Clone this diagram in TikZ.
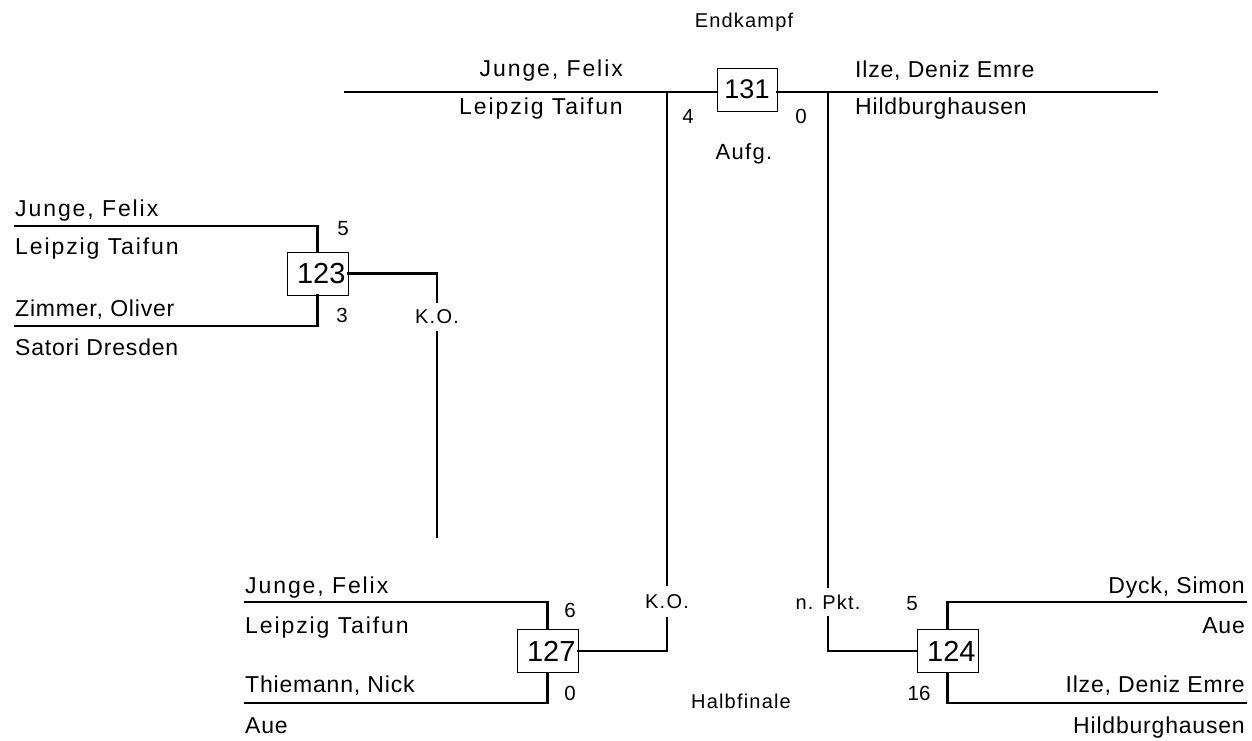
\documentclass[tikz,border=0pt]{standalone}
\usepackage{fontspec}
\setmainfont{Liberation Sans}
\newfontfamily\namefont{Liberation Sans}[LetterSpace=3.5]
\newfontfamily\widefont{Liberation Sans}[LetterSpace=8.3]
\newfontfamily\lblfont{Liberation Sans}[LetterSpace=6]
\tikzset{
  pname/.style={inner sep=0pt, font=\namefont\fontsize{23}{23}\selectfont},
  wname/.style={inner sep=0pt, font=\widefont\fontsize{23}{23}\selectfont},
  scorelbl/.style={inner sep=0pt, anchor=base, font=\fontsize{20.5}{20.5}\selectfont},
  titlelbl/.style={inner sep=0pt, anchor=base, font=\lblfont\fontsize{20}{20}\selectfont},
  reslbl/.style={inner sep=0pt, minimum height=30pt, font=\lblfont\fontsize{20}{20}\selectfont},
  fightbox/.style={draw, line width=0.9pt, fill=white, minimum width=61pt, minimum height=43pt,
    inner xsep=2.5pt, inner ysep=0pt, text width=56pt, align=right, font=\fontsize{29}{29}\selectfont},
  wire/.style={line width=2.8pt, line cap=rect},
}
\begin{document}
\begin{tikzpicture}[x=1pt, y=-1pt]
\useasboundingbox (0,0) rectangle (1252,741);

% boxes
\node[fightbox, minimum width=60pt, text width=55pt, align=center, font=\fontsize{27}{27}\selectfont] (b131) at (747,89.5) {131};
\node[fightbox] (b123) at (317.5,273.5) {123};
\node[fightbox] (b127) at (547.5,651) {127};
\node[fightbox] (b124) at (947.5,651) {124};

% result labels
\node[reslbl] (ko1) at (437,317) {K.O.};
\node[reslbl, minimum height=33pt] (ko2) at (667,601.5) {K.O.};
\node[reslbl] (np) at (828,602) {n. Pkt.};

% coordinates
\coordinate (tl) at (345,92);
\coordinate (tr) at (1157,92);
\coordinate (jl) at (667,92);
\coordinate (jr) at (828,92);
\coordinate (l1a) at (15,226);
\coordinate (l1b) at (15,326);
\coordinate (e123) at (437,537);
\coordinate (l2a) at (245,602);
\coordinate (l2b) at (245,703);
\coordinate (r2a) at (1246,602);
\coordinate (r2b) at (1246,703);

% wires
\begin{scope}[wire]
\draw (tl) -- (tl -| b131.west);
\draw (b131.east |- tr) -- (tr);
\draw (l1a) -| (b123.north);
\draw (l1b) -| (b123.south);
\draw (b123.east) -| (ko1.north);
\draw (ko1.south) -- (e123);
\draw (l2a) -| (b127.north);
\draw (l2b) -| (b127.south);
\draw (b127.east) -| (ko2.south);
\draw (ko2.north) -- (jl);
\draw (r2a) -| (b124.north);
\draw (r2b) -| (b124.south);
\draw (b124.west) -| (np.south);
\draw (np.north) -- (jr);
\end{scope}

% titles
\node[titlelbl] (endk) at (744,28) {Endkampf};
\node[titlelbl] (halb) at (741,708) {Halbfinale};
\node[titlelbl, font=\lblfont\fontsize{22}{22}\selectfont] (aufg) at (744,159) {Aufg.};

% scores
\node[scorelbl] (s131a) at (688,124) {4};
\node[scorelbl] (s131b) at (801,124) {0};
\node[scorelbl] (s123a) at (343,235) {5};
\node[scorelbl] (s123b) at (342,322) {3};
\node[scorelbl] (s127a) at (570,617) {6};
\node[scorelbl] (s127b) at (570,700) {0};
\node[scorelbl] (s124a) at (912,610) {5};
\node[scorelbl] (s124b) at (919,700) {16};

% names final
\node[wname, anchor=base east] (n1) at (623,77) {Junge, Felix};
\node[wname, anchor=base east] (n2) at (623,115) {Leipzig Taifun};
\node[pname, anchor=base west] (n3) at (855,78) {Ilze, Deniz Emre};
\node[pname, anchor=base west] (n4) at (855,114) {Hildburghausen};
% names 123
\node[wname, anchor=base west] (n5) at (15,216) {Junge, Felix};
\node[wname, anchor=base west] (n6) at (15,254) {Leipzig Taifun};
\node[pname, anchor=base west] (n7) at (15,316) {Zimmer, Oliver};
\node[pname, anchor=base west] (n8) at (15,355) {Satori Dresden};
% names 127
\node[wname, anchor=base west] (n9) at (245,593) {Junge, Felix};
\node[wname, anchor=base west] (n10) at (245,633) {Leipzig Taifun};
\node[pname, anchor=base west] (n11) at (245,692) {Thiemann, Nick};
\node[pname, anchor=base west] (n12) at (245,733) {Aue};
% names 124
\node[pname, anchor=base east] (n13) at (1245,593) {Dyck, Simon};
\node[pname, anchor=base east] (n14) at (1245,633) {Aue};
\node[pname, anchor=base east] (n15) at (1245,692) {Ilze, Deniz Emre};
\node[pname, anchor=base east] (n16) at (1245,733) {Hildburghausen};
\end{tikzpicture}
\end{document}
